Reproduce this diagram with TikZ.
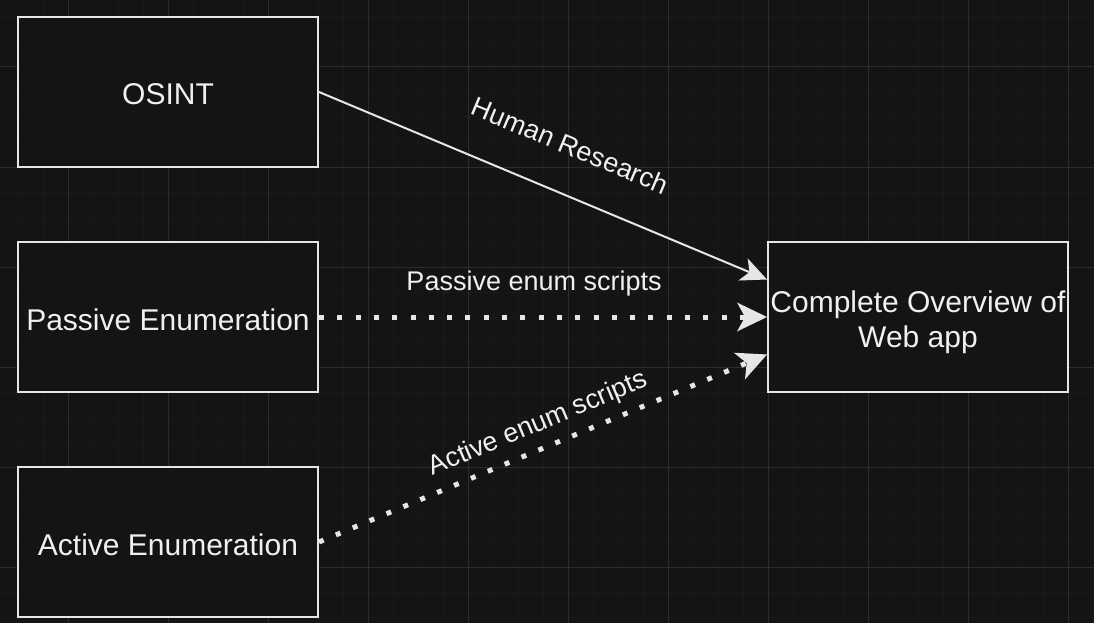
\documentclass[tikz,border=0pt]{standalone}
\usepackage{fontspec}
\setmainfont{Liberation Sans}
\usetikzlibrary{arrows.meta}
\definecolor{bgdark}{HTML}{141414}
\definecolor{gridminor}{HTML}{191919}
\definecolor{gridmajor}{HTML}{2C2C2C}
\definecolor{strokelight}{HTML}{E6E6E6}
\definecolor{textlight}{HTML}{F0F0F0}

\begin{document}
\begin{tikzpicture}[x=1pt,y=-1pt,
    box/.style={draw=strokelight,line width=2pt,fill=bgdark,text=textlight,
      minimum width=300pt,minimum height=150pt,inner sep=2pt,align=center,
      text height=26pt,text depth=0pt,font=\fontsize{30}{35}\selectfont},
    link/.style={draw=strokelight,line width=2pt,
      -{Stealth[length=26pt,width=24pt,inset=7pt,line width=0pt]}},
    dotlink/.style={link,line width=5pt,dash pattern=on 5pt off 13.3pt,
      -{Stealth[length=30pt,width=29pt,inset=8pt,line width=0pt]}},
    edgetext/.style={text=textlight,inner sep=0pt,anchor=base,
      font=\fontsize{27}{30}\selectfont}]
    \useasboundingbox (0,0) rectangle (1094,623);
    \fill[bgdark] (0,0) rectangle (1094,623);
    % grid
    \foreach \gx in {18,43,...,1093} \draw[gridminor,line width=1pt] (\gx,0) -- (\gx,623);
    \foreach \gy in {17,42,...,617} \draw[gridminor,line width=1pt] (0,\gy) -- (1094,\gy);
    \foreach \gx in {68,168,...,1068} \draw[gridmajor,line width=1pt] (\gx,0) -- (\gx,623);
    \foreach \gy in {67,167,...,567} \draw[gridmajor,line width=1pt] (0,\gy) -- (1094,\gy);

    \node[box] (osint) at (168,92) {OSINT};
    \node[box] (passive) at (168,317) {Passive Enumeration};
    \node[box] (active) at (168,542) {Active Enumeration};
    \node[box,text height=60pt] (webapp) at (918,317) {Complete Overview of\\Web app};

    \draw[link] (osint.east) -- node[edgetext,sloped,pos=0.52,yshift=38pt]{Human Research} ([yshift=37.5pt]webapp.west);
    \draw[dotlink] (passive.east) -- node[edgetext,pos=0.48,yshift=27pt]{Passive enum scripts} (webapp.west);
    \draw[dotlink] (active.east) -- node[edgetext,sloped,pos=0.51,yshift=17pt]{Active enum scripts} ([yshift=-37.5pt]webapp.west);
\end{tikzpicture}
\end{document}
